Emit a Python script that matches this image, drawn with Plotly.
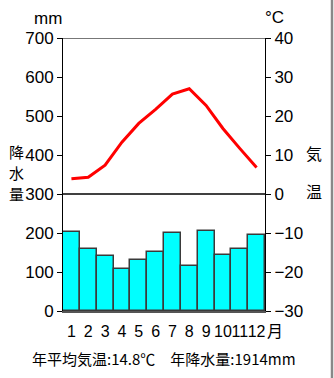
import plotly.graph_objects as go

months = [1, 2, 3, 4, 5, 6, 7, 8, 9, 10, 11, 12]
month_labels = ["1", "2", "3", "4", "5", "6", "7", "8", "9", "10", "11", "12"]
month_unit = "月"
precip_mm = [202, 159, 142, 108, 131, 151, 201, 116, 204, 144, 159, 194]
temp_c = [3.9, 4.3, 7.4, 13.3, 18.1, 21.7, 25.6, 27.0, 22.7, 16.8, 11.7, 6.8]
left_ticks = [0, 100, 200, 300, 400, 500, 600, 700]
right_ticks = [-30, -20, -10, 0, 10, 20, 30, 40]

FONT = "Liberation Sans, Arial, Noto Sans CJK JP, sans-serif"
CJK = "Noto Sans CJK JP, Liberation Sans, sans-serif"

fig = go.Figure()
fig.add_trace(go.Bar(
    x=months, y=precip_mm, width=1.0,
    marker=dict(color="#00FFFF", line=dict(color="#3a3a3a", width=1.5)),
    yaxis="y", showlegend=False,
))
fig.add_trace(go.Scatter(
    x=months, y=temp_c, mode="lines",
    line=dict(color="#FF0000", width=3),
    yaxis="y2", showlegend=False,
))

W, H = 334, 378
L, R, T, B = 63, 69, 38, 67
pw = W - L - R
ph = H - T - B

fig.update_layout(
    width=W, height=H,
    margin=dict(l=L, r=R, t=T, b=B, pad=0),
    paper_bgcolor="white", plot_bgcolor="white",
    bargap=0,
    font=dict(family=FONT, size=16, color="black"),
    xaxis=dict(
        range=[0.5, 12.5], tickmode="array", tickvals=months, ticktext=month_labels,
        showgrid=False, zeroline=False, showline=True, linecolor="#555555", linewidth=1.5,
        ticks="", tickangle=0, ticklabelstandoff=5,
        tickfont=dict(family=FONT, size=16), fixedrange=True,
    ),
    yaxis=dict(
        range=[0, 700], tickmode="array", tickvals=left_ticks,
        showgrid=False, zeroline=False, showline=True, linecolor="black", linewidth=1,
        ticks="outside", ticklen=5, tickcolor="black", tickwidth=1,
        tickfont=dict(family=FONT, size=17),
    ),
    yaxis2=dict(
        range=[-30, 40], tickmode="array", tickvals=right_ticks, overlaying="y", side="right",
        showgrid=False, zeroline=False, showline=True, linecolor="black", linewidth=1,
        ticks="outside", ticklen=5, tickcolor="black", tickwidth=1,
        tickfont=dict(family=FONT, size=17),
    ),
    shapes=[
        dict(type="line", xref="paper", yref="y", x0=0, x1=1, y0=300, y1=300,
             line=dict(color="black", width=1.5)),
        dict(type="line", xref="paper", yref="y", x0=0, x1=1, y0=700, y1=700,
             line=dict(color="#777777", width=2)),
        dict(type="line", xref="paper", yref="paper", x0=(332 - L) / pw, x1=(332 - L) / pw,
             y0=-1, y1=2, line=dict(color="#888888", width=2.5)),
    ],
)

def ann(text, x, y, size=16, family=FONT, xanchor="center"):
    fig.add_annotation(text=text, xref="paper", yref="paper",
                       x=(x - L) / pw, y=1 - (y - T) / ph,
                       showarrow=False, xanchor=xanchor, yanchor="middle",
                       font=dict(family=family, size=size, color="black"))

ann("mm", 48, 18, size=17)
ann("°C", 274, 17, size=17)
ann("降", 16, 151, size=15, family=CJK)
ann("水", 16, 172, size=15, family=CJK)
ann("量", 16, 193, size=15, family=CJK)
ann("気", 314, 153, size=16, family=CJK)
ann("温", 314, 191, size=16, family=CJK)
ann(month_unit, 265, 330, size=16, family=CJK, xanchor="left")
ann("年平均気温:14.8℃　年降水量:1914mm", 164, 358, size=15, family=CJK)

fig.write_html("out.html")
